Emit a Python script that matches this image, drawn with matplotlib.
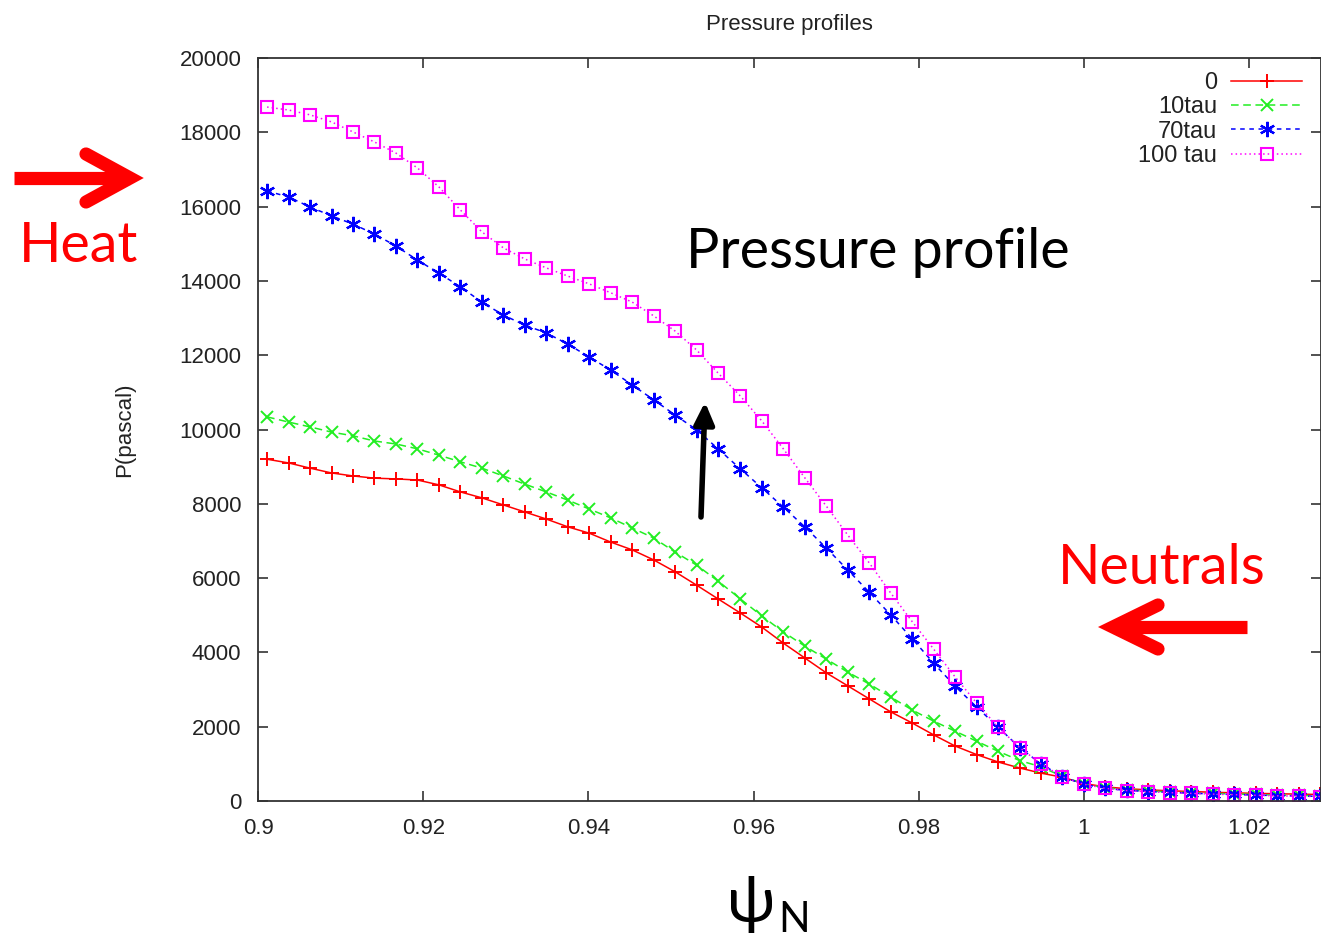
import matplotlib
matplotlib.use("Agg")
from matplotlib import pyplot as plt
from matplotlib.lines import Line2D
from matplotlib.patches import FancyArrowPatch

W, H = 1321, 939

psi = [0.9011, 0.9037, 0.9063, 0.9089, 0.9115, 0.9141, 0.9167, 0.9193, 0.9219, 0.9245,
       0.9271, 0.9297, 0.9323, 0.9349, 0.9375, 0.9401, 0.9427, 0.9453, 0.9479, 0.9505,
       0.9531, 0.9557, 0.9584, 0.9610, 0.9636, 0.9662, 0.9688, 0.9714, 0.9740, 0.9766,
       0.9792, 0.9818, 0.9844, 0.9870, 0.9896, 0.9922, 0.9948, 0.9974, 1.0000, 1.0026,
       1.0052, 1.0078, 1.0104, 1.0130, 1.0156, 1.0182, 1.0208, 1.0234, 1.0260, 1.0286]

p_0 = [9200, 9100, 8960, 8830, 8750, 8690, 8670, 8640, 8510, 8320,
       8160, 7970, 7780, 7590, 7380, 7210, 6970, 6760, 6490, 6170,
       5810, 5440, 5060, 4680, 4250, 3850, 3450, 3100, 2750, 2400,
       2100, 1780, 1480, 1250, 1050, 890, 750, 640, 470, 380,
       330, 300, 275, 255, 235, 220, 205, 195, 185, 175]

p_10 = [10340, 10200, 10070, 9930, 9830, 9690, 9610, 9480, 9310, 9130,
        8960, 8750, 8530, 8320, 8100, 7860, 7620, 7350, 7080, 6700,
        6350, 5920, 5440, 4980, 4550, 4170, 3820, 3470, 3150, 2800,
        2450, 2150, 1880, 1610, 1340, 1090, 920, 660, 460, 360,
        300, 270, 245, 225, 205, 190, 175, 160, 150, 140]

p_70 = [16420, 16260, 15990, 15750, 15530, 15260, 14940, 14560, 14210, 13840,
        13430, 13080, 12810, 12600, 12300, 11950, 11600, 11200, 10800, 10390,
        9990, 9480, 8940, 8430, 7910, 7380, 6810, 6220, 5620, 5010,
        4370, 3710, 3090, 2530, 1990, 1440, 1000, 650, 450, 340,
        285, 255, 230, 210, 190, 175, 160, 145, 135, 125]

p_100 = [18680, 18600, 18470, 18280, 18010, 17740, 17440, 17040, 16530, 15910,
         15320, 14890, 14590, 14350, 14130, 13920, 13680, 13430, 13060, 12650,
         12140, 11520, 10900, 10230, 9480, 8700, 7940, 7160, 6410, 5600,
         4830, 4090, 3340, 2640, 1990, 1440, 1000, 650, 450, 340,
         280, 250, 225, 205, 185, 170, 155, 140, 130, 120]

labels = ["0", "10tau", "70tau", "100 tau"]
x_ticks = [0.9, 0.92, 0.94, 0.96, 0.98, 1.0, 1.02]
x_ticklabels = ["0.9", "0.92", "0.94", "0.96", "0.98", "1", "1.02"]
y_ticks = [0, 2000, 4000, 6000, 8000, 10000, 12000, 14000, 16000, 18000, 20000]

plt.rcParams["font.family"] = ["Liberation Sans", "DejaVu Sans"]


def fx(px):
    return px / W


def fy(py):
    return 1 - py / H


fig = plt.figure(figsize=(W / 100, H / 100), dpi=100)
ax = fig.add_axes([fx(258), fy(801), 1 - fx(258), fy(58) - fy(801)])

ax.plot(psi, p_0, color="#ff0000", lw=1.1, ls="-", marker="+", ms=10, mew=1.4, label=labels[0])
ax.plot(psi, p_10, color="#22ee22", lw=1.1, ls=(0, (5, 3)), marker="x", ms=8, mew=1.4, label=labels[1])
ax.plot(psi, p_70, color="#0000ff", lw=1.1, ls=(0, (3, 3)), marker=(6, 2, 0), ms=11, mew=1.6, label=labels[2])
ax.plot(psi, p_100, color="#ff00ff", lw=1.1, ls=(0, (1, 2)), marker="s", ms=9, mew=1.5,
        mfc="none", label=labels[3])

ax.set_xlim(0.9, 1.0287)
ax.set_ylim(0, 20000)
ax.set_xticks(x_ticks)
ax.set_xticklabels(x_ticklabels)
ax.set_yticks(y_ticks)
ax.tick_params(direction="in", top=True, right=True, length=7, width=1.2,
               labelsize=16, pad=12, colors="#333333", labelcolor="#222222")
for s in ax.spines.values():
    s.set_color("#333333")
    s.set_linewidth(1.3)

ax.set_title("Pressure profiles", fontsize=16, color="#222222", pad=20)
fig.text(fx(125), fy(430), "P(pascal)", rotation=90, ha="center", va="center",
         fontsize=16, color="#222222")

leg = ax.legend(loc="upper right", bbox_to_anchor=(fx(1302), fy(72)), bbox_transform=fig.transFigure,
                frameon=False, markerfirst=False, fontsize=17, handlelength=3.0,
                handletextpad=0.6, labelspacing=0.1, borderpad=0, borderaxespad=0)
leg._legend_handle_box.get_children()[0].align = "right"
for t in leg.get_texts():
    t.set_color("#222222")

big = ["Lato", "DejaVu Sans"]
fig.text(fx(19), fy(262), "Heat", color="#ff0000", fontsize=40, family=big, ha="left", va="baseline")
fig.text(fx(1058), fy(584), "Neutrals", color="#ff0000", fontsize=40, family=big, ha="left", va="baseline")
fig.text(fx(686), fy(268), "Pressure profile", color="black", fontsize=40, family=big,
         ha="left", va="baseline")
fig.text(fx(751), fy(922), "\u03c8", color="black", fontsize=46, family=big, ha="center", va="baseline")
fig.text(fx(778), fy(932), "N", color="black", fontsize=30, family=big, ha="left", va="baseline")


def red_arrow(x0, x1, y, arm_dx, arm_dy):
    # shaft then open chevron head
    fig.add_artist(Line2D([fx(x0), fx(x1)], [fy(y), fy(y)], transform=fig.transFigure,
                          color="#ff0000", lw=9.5, solid_capstyle="butt"))
    fig.add_artist(Line2D([fx(x1 + arm_dx), fx(x1), fx(x1 + arm_dx)],
                          [fy(y - arm_dy), fy(y), fy(y + arm_dy)], transform=fig.transFigure,
                          color="#ff0000", lw=9.5, solid_capstyle="round", solid_joinstyle="miter"))


red_arrow(14, 130, 178, -44, 24)
red_arrow(1247, 1113, 627, 45, 22)

fig.add_artist(FancyArrowPatch((fx(701), fy(517)), (fx(705), fy(402)), transform=fig.transFigure,
                               arrowstyle="-|>,head_length=13,head_width=6", mutation_scale=1,
                               lw=4, color="black", shrinkA=0, shrinkB=0))

fig.savefig("out.png", dpi=100)
